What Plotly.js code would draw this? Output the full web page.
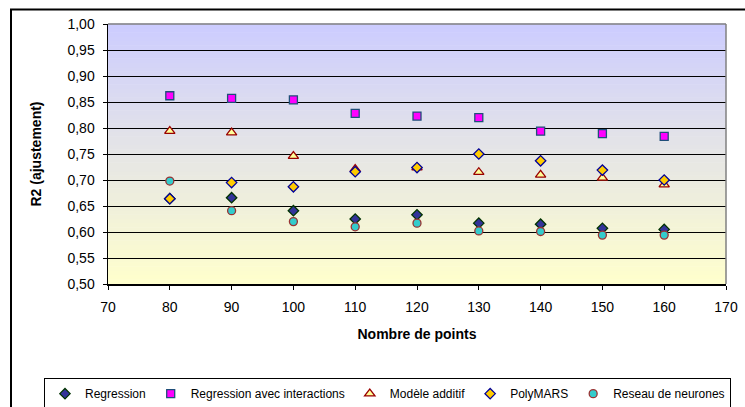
<!DOCTYPE html>
<html>
<head>
<meta charset="utf-8">
<script src="https://cdn.plot.ly/plotly-3.0.1.min.js"></script>
<style>
html,body{margin:0;padding:0;background:#fff;}
#chart{width:745px;height:407px;}
</style>
</head>
<body>
<div id="chart"></div>
<script>
// Data
const nbPoints = [80, 90, 100, 110, 120, 130, 140, 150, 160];
const regression = [0.664, 0.666, 0.641, 0.625, 0.633, 0.617, 0.615, 0.607, 0.605];
const regressionInteractions = [0.862, 0.857, 0.854, 0.828, 0.823, 0.820, 0.794, 0.789, 0.784];
const modeleAdditif = [0.794, 0.791, 0.746, 0.721, 0.724, 0.715, 0.710, 0.704, 0.691];
const polyMARS = [0.664, 0.695, 0.687, 0.716, 0.724, 0.750, 0.737, 0.719, 0.700];
const reseauNeurones = [0.698, 0.641, 0.620, 0.610, 0.617, 0.602, 0.601, 0.594, 0.594];
const seriesNames = ["Regression", "Regression avec interactions", "Modèle additif", "PolyMARS", "Reseau de neurones"];
const yTicks = [0.50, 0.55, 0.60, 0.65, 0.70, 0.75, 0.80, 0.85, 0.90, 0.95, 1.00];
const xTicks = [70, 80, 90, 100, 110, 120, 130, 140, 150, 160, 170];

const font = "Liberation Sans, Arial, sans-serif";
const fs = 14;

function mk(name, y, symbol, fill, line, size) {
  return {
    type: "scatter", mode: "markers", name: name, x: nbPoints, y: y,
    marker: {symbol: symbol, color: fill, size: size, line: {color: line, width: 1.3}}
  };
}

const traces = [
  mk(seriesNames[0], regression, "diamond", "#333399", "#003300", 8),
  mk(seriesNames[1], regressionInteractions, "square", "#FF00FF", "#1F4E79", 8),
  mk(seriesNames[2], modeleAdditif, "triangle-up", "#FFFF99", "#990000", 9),
  mk(seriesNames[3], polyMARS, "diamond", "#FFCC00", "#000099", 8),
  mk(seriesNames[4], reseauNeurones, "circle", "#33CCCC", "#993333", 8)
];

// background gradient strips (style only)
const shapes = [];
const N = 60;
function lerp(a, b, t) { return Math.round(a + (b - a) * t); }
for (let i = 0; i < N; i++) {
  const t = (i + 0.5) / N; // 0 bottom -> 1 top
  const r = lerp(255, 204, t), g = lerp(255, 204, t), b = lerp(204, 255, t);
  shapes.push({type: "rect", xref: "x domain", yref: "y domain", x0: 0, x1: 1,
    y0: i / N, y1: (i + 1) / N + 0.002, fillcolor: `rgb(${r},${g},${b})`,
    line: {width: 0}, layer: "below"});
}
// plot area border (top/right grey)
shapes.push({type: "line", xref: "paper", yref: "paper", x0: 0, x1: 1, y0: 1, y1: 1, line: {color: "#808080", width: 1.5}});
shapes.push({type: "line", xref: "paper", yref: "paper", x0: 1, x1: 1, y0: 0, y1: 1, line: {color: "#808080", width: 1.5}});
// outer chart frame (extends beyond the visible window on right and bottom)
shapes.push({type: "rect", xref: "paper", yref: "paper",
  x0: (11 - 108) / 618, x1: 1.2, y0: -0.8, y1: (284.5 - 9) / 261,
  line: {color: "#000", width: 2}, fillcolor: "rgba(0,0,0,0)", layer: "above"});

const layout = {
  width: 745, height: 407,
  margin: {l: 108, r: 19, t: 23.5, b: 122.5, autoexpand: false},
  paper_bgcolor: "#fff",
  plot_bgcolor: "rgba(0,0,0,0)",
  separators: ", ",
  font: {family: font, size: fs, color: "#000"},
  showlegend: true,
  legend: {
    orientation: "h",
    x: (44 - 108) / 618, xanchor: "left",
    y: (284.5 - 379) / 261, yanchor: "top",
    bordercolor: "#000", borderwidth: 1, bgcolor: "#fff",
    font: {family: font, size: 12, color: "#000"},
    itemwidth: 30, tracegroupgap: 0
  },
  xaxis: {
    range: [70, 170], tickvals: xTicks, ticktext: xTicks.map(String),
    showgrid: false, zeroline: false, automargin: false,
    showline: true, linecolor: "#000", linewidth: 1.5,
    ticks: "outside", ticklen: 4, tickcolor: "#000", tickwidth: 1,
    ticklabelstandoff: 6,
    tickfont: {family: font, size: fs, color: "#000"},
    title: {text: "<b>Nombre de points</b>", font: {family: font, size: fs, color: "#000"}, standoff: 15}
  },
  yaxis: {
    range: [0.5, 1.0], tickvals: yTicks, tickformat: ".2f",
    showgrid: true, gridcolor: "#000", gridwidth: 1,
    zeroline: false, automargin: false,
    showline: true, linecolor: "#000", linewidth: 1.5,
    ticks: "outside", ticklen: 4, tickcolor: "#000", tickwidth: 1,
    ticklabelstandoff: 5,
    tickfont: {family: font, size: fs, color: "#000"},
    title: {text: "<b>R2 (ajustement)</b>", font: {family: font, size: fs, color: "#000"}, standoff: 22}
  },
  shapes: shapes
};

Plotly.newPlot("chart", traces, layout, {displayModeBar: false, staticPlot: true});
</script>
</body>
</html>
